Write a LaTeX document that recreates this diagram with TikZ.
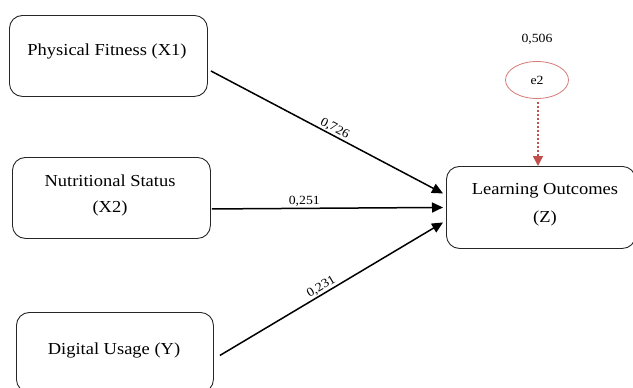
\documentclass[tikz,border=0pt]{standalone}
\usepackage{fontspec}
\setmainfont{Liberation Serif}
\newfontfamily\widefont[FakeStretch=1.1]{Liberation Serif}
\usetikzlibrary{calc,arrows.meta,shapes.geometric}
\definecolor{errred}{HTML}{C0504D}
\definecolor{ellred}{HTML}{D77A78}
\tikzset{
  varbox/.style={draw=black!85, line width=0.9pt, rounded corners=13pt, anchor=north west, inner sep=0pt},
  boxtext/.style={font=\widefont\fontsize{16.8}{20}\selectfont, inner sep=0pt, align=center},
  coef/.style={font=\widefont\fontsize{12.5}{15}\selectfont, inner sep=1pt},
  causal/.style={line width=1.5pt, -{Triangle[length=11pt,width=10pt]}},
  errpath/.style={line width=1.5pt, errred, dash pattern=on 2.5pt off 1.5pt, -{Triangle[length=10pt,width=10pt]}}
}
\begin{document}
\begin{tikzpicture}[x=1pt,y=-1pt]
\useasboundingbox (0,0) rectangle (633,388);
% boxes
\node[varbox, minimum width=198pt, minimum height=81pt] (x1) at (9,15) {};
\node[varbox, minimum width=198pt, minimum height=81pt] (x2) at (12,157) {};
\node[varbox, minimum width=197pt, minimum height=80pt] (y) at (16,312) {};
\node[varbox, minimum width=189pt, minimum height=82pt] (z) at (446,166) {};
% texts
\node[boxtext] (tx1) at (107,51) {Physical Fitness (X1)};
\node[boxtext] (tx2a) at (110,181) {Nutritional Status};
\node[boxtext] (tx2b) at (110,208) {(X2)};
\node[boxtext] (ty) at (114,350) {Digital Usage (Y)};
\node[boxtext] (tza) at (545,191) {Learning Outcomes};
\node[boxtext] (tzb) at (545,218) {(Z)};
% error term
\node[draw=ellred, line width=0.8pt, ellipse, minimum width=63pt, minimum height=37pt, inner sep=0pt, font=\widefont\fontsize{12.5}{15}\selectfont] (e2) at (537,80) {e2};
\node[coef] (r2) at (537,39) {0,506};
% paths
\draw[causal] ($(x1.east)+(3,15)$) -- node[coef, sloped, above, pos=0.52] (l1) {0,726} ($(z.west)+(-3,-14)$);
\draw[causal] ($(x2.east)+(1,11)$) -- node[coef, above, pos=0.4] (l2) {0,251} ($(z.west)+(-3,0)$);
\draw[causal] ($(y.east)+(6,3)$) -- node[coef, sloped, above, pos=0.47] (l3) {0,231} ($(z.west)+(-3,15)$);
\draw[errpath] ($(e2.south)+(1,3)$) -- ($(z.north west)+(92,0)$);
\end{tikzpicture}
\end{document}
